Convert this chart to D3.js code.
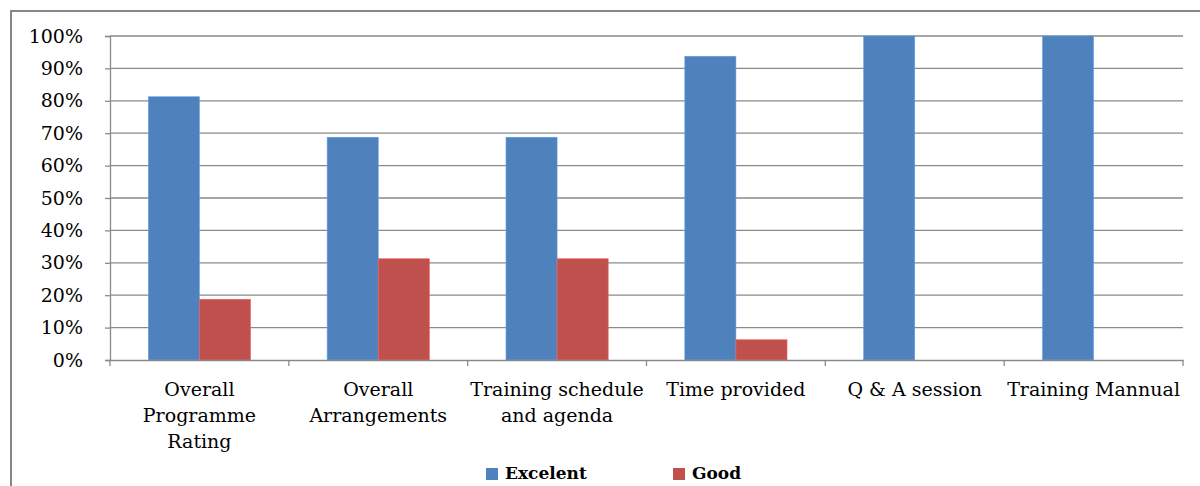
<!DOCTYPE html>
<html>
<head>
<meta charset="utf-8">
<script src="https://cdn.jsdelivr.net/npm/d3@7"></script>
<style>
  html, body { margin: 0; padding: 0; background: #fff; }
  svg { display: block; }
</style>
</head>
<body>
<svg id="chart" width="1200" height="486"></svg>
<script>
// Feedback ratings per session item
const categories = [
  ["Overall", "Programme", "Rating"],
  ["Overall", "Arrangements"],
  ["Training schedule", "and agenda"],
  ["Time provided"],
  ["Q & A session"],
  ["Training Mannual"]
];
const seriesNames = ["Excelent", "Good"];
const excelent = [0.8125, 0.6875, 0.6875, 0.9375, 1.0, 1.0];
const good = [0.1875, 0.3125, 0.3125, 0.0625, 0, 0];
const yTicks = [0, 0.1, 0.2, 0.3, 0.4, 0.5, 0.6, 0.7, 0.8, 0.9, 1.0];
const colors = ["#4F81BD", "#C0504D"];

const svg = d3.select("#chart");
const serif = "'DejaVu Serif', 'Liberation Serif', serif";

// outer frame
svg.append("rect")
  .attr("x", 11).attr("y", 11)
  .attr("width", 1200).attr("height", 500)
  .attr("fill", "none").attr("stroke", "#878787").attr("stroke-width", 2);

const plot = { left: 110, right: 1183, top: 36, bottom: 360 };

const x = d3.scaleBand()
  .domain(d3.range(categories.length))
  .range([plot.left, plot.right])
  .paddingInner(0).paddingOuter(0);

const y = d3.scaleLinear().domain([0, 1]).range([plot.bottom, plot.top]);

// gridlines
svg.append("g")
  .selectAll("line")
  .data(yTicks.filter(d => d > 0))
  .join("line")
  .attr("x1", plot.left).attr("x2", plot.right)
  .attr("y1", d => y(d)).attr("y2", d => y(d))
  .attr("stroke", "#8a8a8a").attr("stroke-width", 1.3);

// y axis
const yAxis = svg.append("g")
  .attr("transform", `translate(${plot.left},0)`)
  .call(d3.axisLeft(y).tickValues(yTicks).tickFormat(d3.format(".0%")).tickSize(5).tickPadding(22));
yAxis.select(".domain").attr("stroke", "#8a8a8a").attr("stroke-width", 1.3);
yAxis.selectAll(".tick line").attr("stroke", "#8a8a8a").attr("stroke-width", 1.3);
yAxis.selectAll(".tick text")
  .attr("font-family", serif).attr("font-size", 19).attr("fill", "#000");

// bars: gap width 150% of a bar
const groupW = x.bandwidth();
const barW = groupW / 3.5;
const sub = d3.scaleBand().domain([0, 1]).range([0, barW * 2]);
const seriesData = [excelent, good];

seriesData.forEach((vals, s) => {
  svg.append("g")
    .selectAll("rect")
    .data(vals)
    .join("rect")
    .attr("x", (d, i) => x(i) + (groupW - 2 * barW) / 2 + sub(s))
    .attr("width", sub.bandwidth())
    .attr("y", d => y(d))
    .attr("height", d => y(0) - y(d))
    .attr("fill", colors[s])
    .attr("stroke", d => d > 0 ? d3.color(colors[s]).brighter(0.6) : "none")
    .attr("stroke-width", 0.6);
});

// x axis baseline and category ticks
const xAxis = svg.append("g")
  .attr("transform", `translate(0,${plot.bottom})`)
  .call(d3.axisBottom(x).tickSize(0).tickFormat(""));
xAxis.select(".domain").attr("stroke", "#8a8a8a").attr("stroke-width", 1.3);
xAxis.selectAll(".tick").remove();
svg.append("g")
  .selectAll("line")
  .data(d3.range(categories.length + 1))
  .join("line")
  .attr("x1", i => plot.left + i * groupW).attr("x2", i => plot.left + i * groupW)
  .attr("y1", plot.bottom).attr("y2", plot.bottom + 6)
  .attr("stroke", "#8a8a8a").attr("stroke-width", 1.3);

// category labels
svg.append("g")
  .selectAll("text")
  .data(categories)
  .join("text")
  .attr("text-anchor", "middle")
  .attr("font-family", serif).attr("font-size", 19).attr("fill", "#000")
  .each(function (lines, i) {
    d3.select(this).selectAll("tspan")
      .data(lines)
      .join("tspan")
      .attr("x", x(i) + groupW / 2)
      .attr("y", (d, k) => 396 + k * 26)
      .text(d => d);
  });

// legend
const legend = svg.append("g");
const legendItems = [{ name: seriesNames[0], x: 486 }, { name: seriesNames[1], x: 673 }];
legendItems.forEach((it, s) => {
  legend.append("rect")
    .attr("x", it.x).attr("y", 468)
    .attr("width", 12).attr("height", 12)
    .attr("fill", colors[s]);
  legend.append("text")
    .attr("x", it.x + 19).attr("y", 479)
    .attr("font-family", serif).attr("font-size", 17).attr("font-weight", "bold")
    .attr("fill", "#000")
    .text(it.name);
});
</script>
</body>
</html>
